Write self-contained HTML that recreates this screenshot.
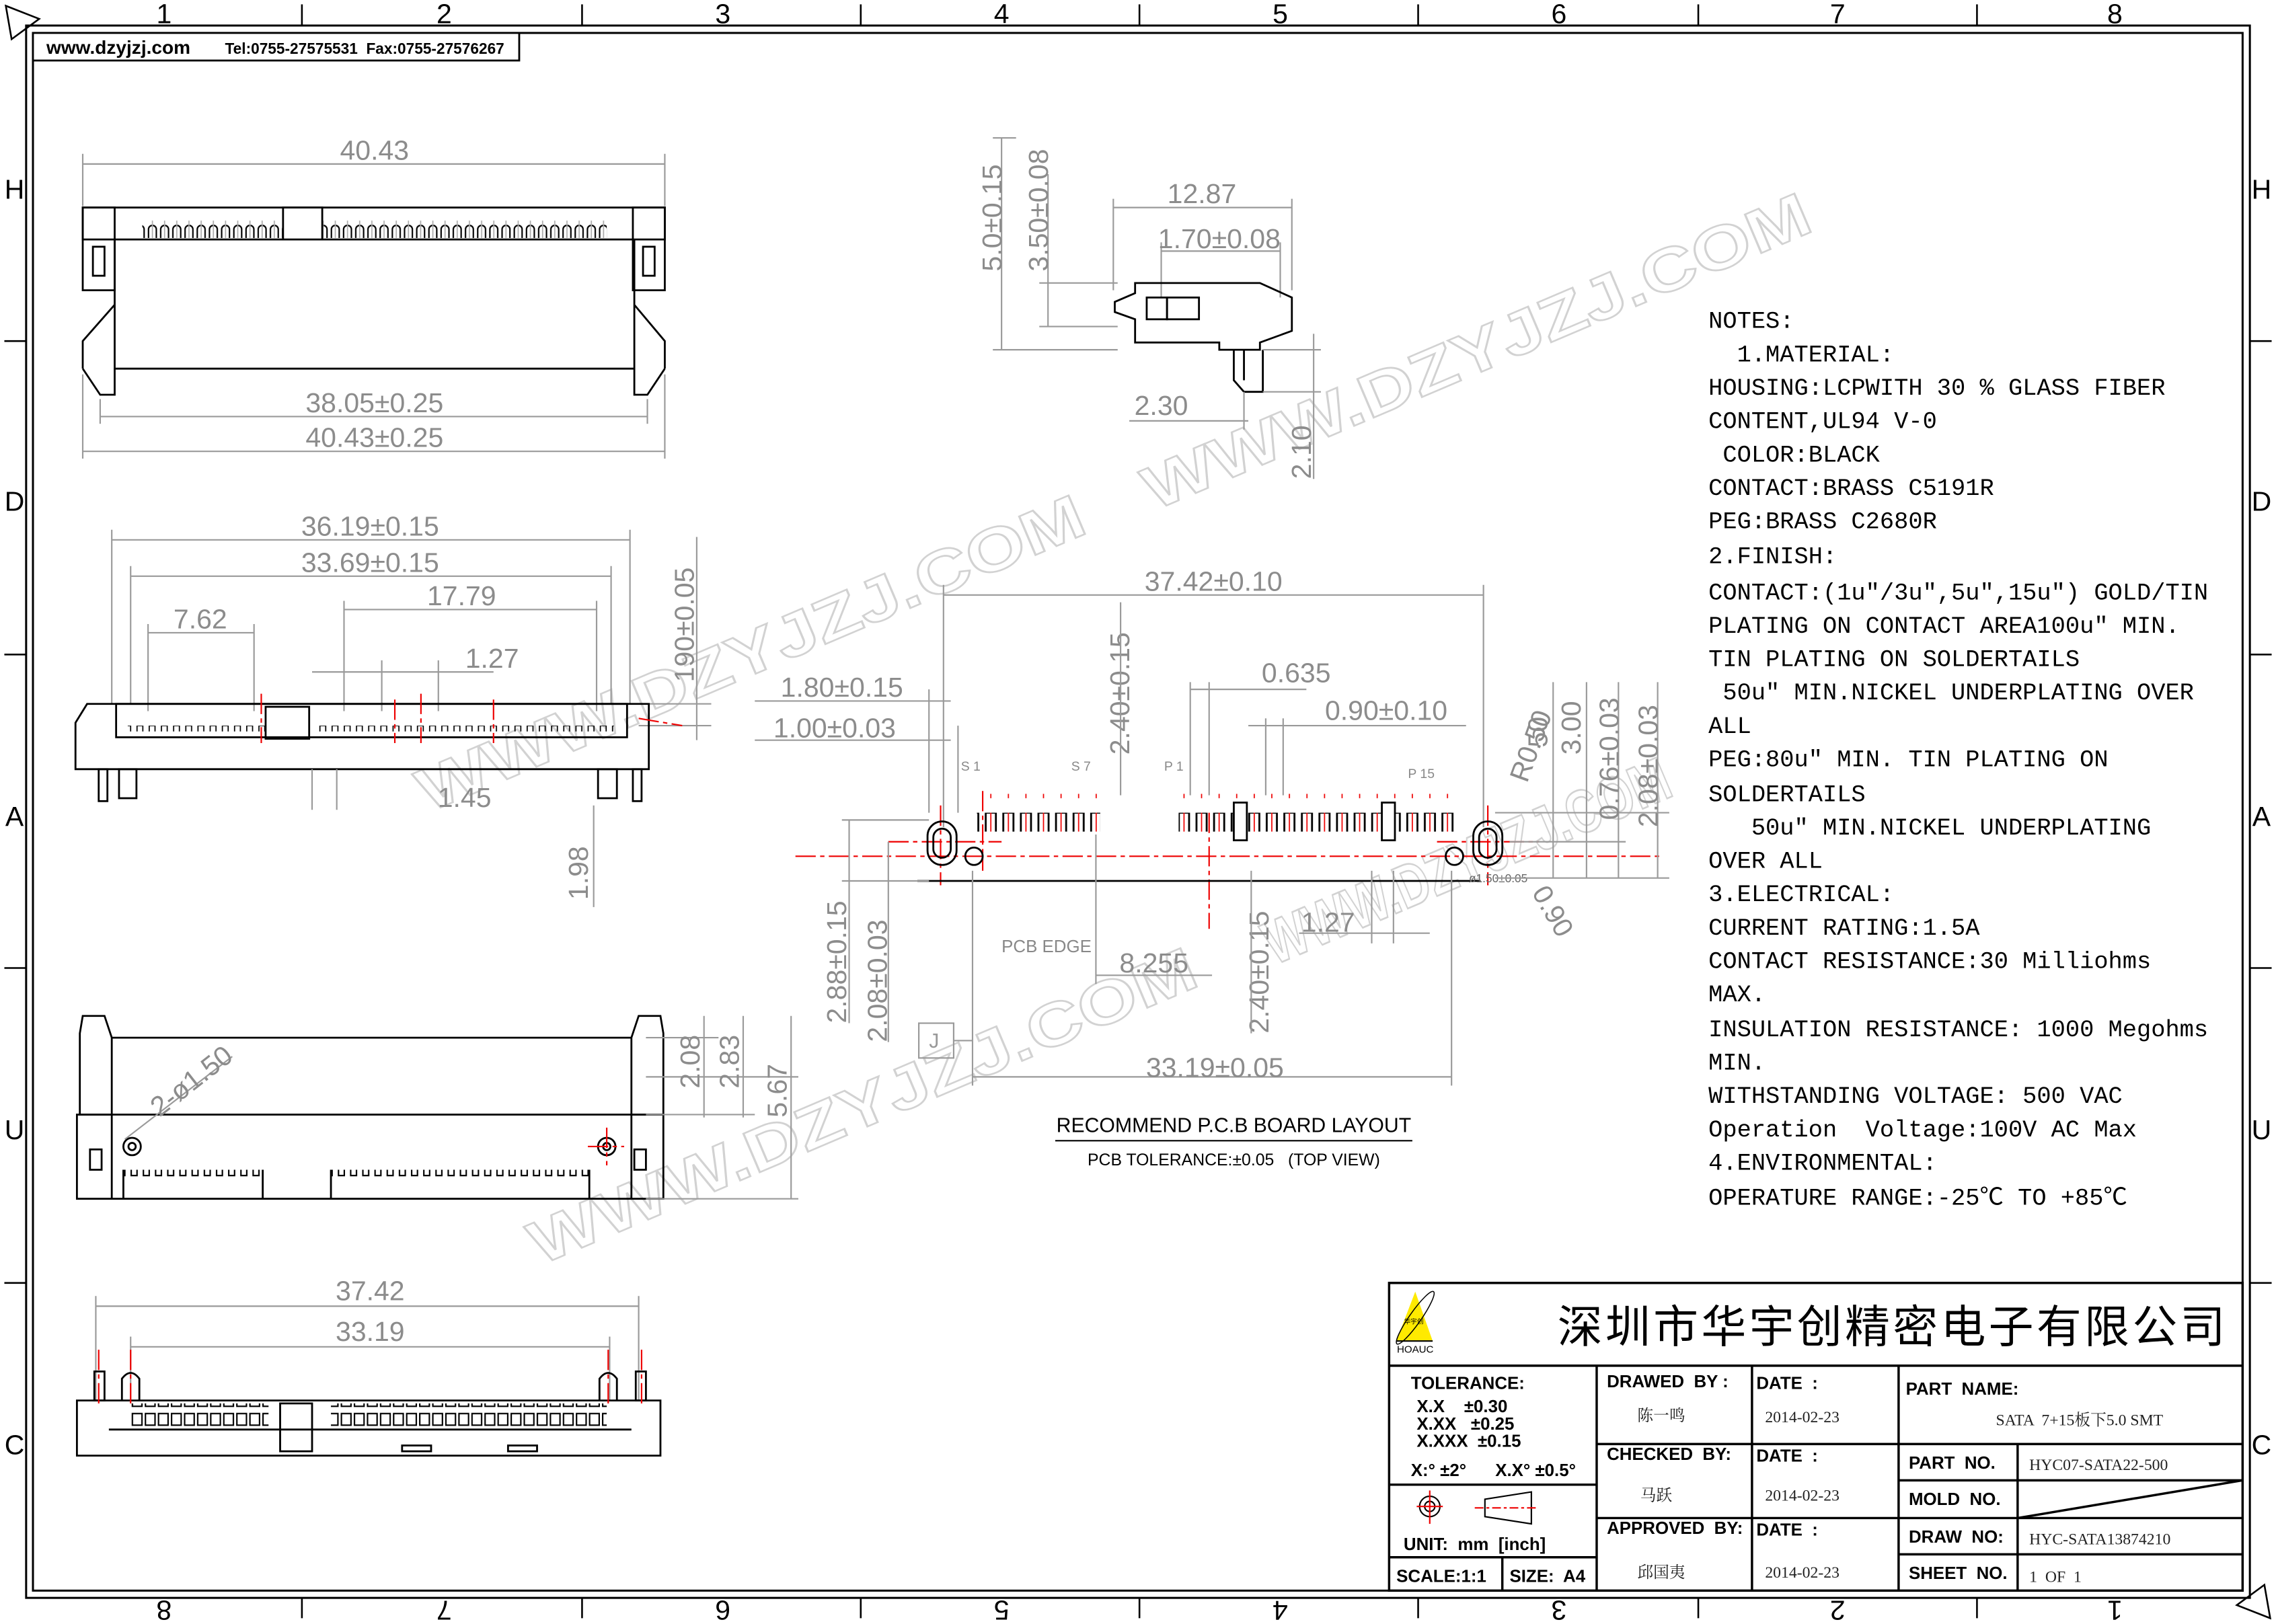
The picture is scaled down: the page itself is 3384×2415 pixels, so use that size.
<!DOCTYPE html>
<html><head><meta charset="utf-8"><style>
html,body{margin:0;padding:0;background:#fff}
svg{display:block}
text{font-family:"Liberation Sans","Noto Sans CJK SC",sans-serif;white-space:pre}
.d{fill:#8c8c8c;font-size:19px}
.dl{stroke:#9a9a9a;stroke-width:1;fill:none}
.k{stroke:#000;stroke-width:1.3;fill:none}
.kf{stroke:#000;stroke-width:1.3;fill:#fff}
.r{stroke:#e00;stroke-width:1;fill:none;stroke-dasharray:14 3 3 3}
.n{font-family:"Liberation Mono","Noto Sans CJK SC",monospace;font-size:16.4px;fill:#000}
.tb{font-family:"Liberation Sans",sans-serif;font-weight:bold;font-size:12px;fill:#000}
.ts{font-family:"Liberation Serif","Noto Serif CJK SC",serif;font-size:11px;fill:#222}
.wm{font-family:"Liberation Sans",sans-serif;font-size:42px;font-weight:bold;fill:none;stroke:#d2d2d2;stroke-width:1.2}
</style></head><body>
<svg width="3384" height="2415" viewBox="0 0 1568 1119" preserveAspectRatio="none" xmlns="http://www.w3.org/2000/svg">
<defs>
<pattern id="arch" x="0" y="0" width="8.4" height="30" patternUnits="userSpaceOnUse">
<path d="M1.5 22 V8 A2.7 2.7 0 0 1 6.9 8 V22" stroke="#000" stroke-width="1" fill="none"/>
<line x1="4.2" y1="2" x2="4.2" y2="22" stroke="#aaa" stroke-width="0.8"/>
</pattern>
<pattern id="comb" x="0" y="0" width="8.4" height="40" patternUnits="userSpaceOnUse">
<path d="M0 10 H2 V2 H6.4 V10 H8.4" stroke="#000" stroke-width="1" fill="none"/>
</pattern>
<pattern id="cbox" x="0" y="0" width="9" height="40" patternUnits="userSpaceOnUse">
<rect x="1.2" y="1" width="6.6" height="8" stroke="#000" stroke-width="1" fill="none"/>
<rect x="1.2" y="14" width="6.6" height="8" stroke="#000" stroke-width="1" fill="none"/>
</pattern>
<pattern id="pad" x="0" y="0" width="12.1" height="40" patternUnits="userSpaceOnUse">
<rect x="1.5" y="0" width="7" height="25" stroke="#000" stroke-width="1.3" fill="none"/>
<line x1="5" y1="-3" x2="5" y2="30" stroke="#e00" stroke-width="0.8"/>
</pattern>
<pattern id="tiny" x="0" y="0" width="8.4" height="20" patternUnits="userSpaceOnUse">
<rect x="2" y="0" width="4" height="8" stroke="#000" stroke-width="0.8" fill="none"/>
</pattern>
</defs>

<!-- frame -->
<rect x="18" y="17.6" width="1532" height="1083.4" fill="none" stroke="#000" stroke-width="1.4"/>
<rect x="22.7" y="22.7" width="1522.3" height="1073.3" fill="none" stroke="#000" stroke-width="1.4"/>
<g stroke="#000" stroke-width="1.2">
<line x1="208" y1="3" x2="208" y2="17"/><line x1="401" y1="3" x2="401" y2="17"/><line x1="593" y1="3" x2="593" y2="17"/><line x1="785" y1="3" x2="785" y2="17"/><line x1="977" y1="3" x2="977" y2="17"/><line x1="1170" y1="3" x2="1170" y2="17"/><line x1="1362" y1="3" x2="1362" y2="17"/>
<line x1="208" y1="1101" x2="208" y2="1115"/><line x1="401" y1="1101" x2="401" y2="1115"/><line x1="593" y1="1101" x2="593" y2="1115"/><line x1="785" y1="1101" x2="785" y2="1115"/><line x1="977" y1="1101" x2="977" y2="1115"/><line x1="1170" y1="1101" x2="1170" y2="1115"/><line x1="1362" y1="1101" x2="1362" y2="1115"/>
<line x1="3" y1="235" x2="18" y2="235"/><line x1="3" y1="451" x2="18" y2="451"/><line x1="3" y1="667" x2="18" y2="667"/><line x1="3" y1="884" x2="18" y2="884"/>
<line x1="1550" y1="235" x2="1565" y2="235"/><line x1="1550" y1="451" x2="1565" y2="451"/><line x1="1550" y1="667" x2="1565" y2="667"/><line x1="1550" y1="884" x2="1565" y2="884"/>
</g>
<path d="M4 4 L27 13 L8 27 Z" fill="none" stroke="#000" stroke-width="1.2"/>
<path d="M1564 1115 L1541 1106 L1560 1092 Z" fill="none" stroke="#000" stroke-width="1.2"/>
<g font-size="19" fill="#000" text-anchor="middle">
<text x="113" y="16">1</text><text x="306" y="16">2</text><text x="498" y="16">3</text><text x="690" y="16">4</text><text x="882" y="16">5</text><text x="1074" y="16">6</text><text x="1266" y="16">7</text><text x="1457" y="16">8</text>
<text x="10" y="137">H</text><text x="10" y="352">D</text><text x="10" y="569">A</text><text x="10" y="785">U</text><text x="10" y="1002">C</text>
<text x="1558" y="137">H</text><text x="1558" y="352">D</text><text x="1558" y="569">A</text><text x="1558" y="785">U</text><text x="1558" y="1002">C</text>
<text transform="translate(113,1103) rotate(180)">8</text><text transform="translate(306,1103) rotate(180)">7</text><text transform="translate(498,1103) rotate(180)">6</text><text transform="translate(690,1103) rotate(180)">5</text><text transform="translate(882,1103) rotate(180)">4</text><text transform="translate(1074,1103) rotate(180)">3</text><text transform="translate(1266,1103) rotate(180)">2</text><text transform="translate(1457,1103) rotate(180)">1</text>
</g>
<rect x="22.7" y="22.7" width="335" height="19" fill="#fff" stroke="#000" stroke-width="1.3"/>
<text x="32" y="37" font-family="Liberation Serif,serif" font-weight="bold" font-size="13">www.dzyjzj.com</text>
<text x="155" y="37" font-family="Liberation Serif,serif" font-weight="bold" font-size="10.5">Tel:0755-27575531  Fax:0755-27576267</text>

<!-- watermarks -->
<text class="wm" transform="translate(795,352) rotate(-23)" textLength="495" lengthAdjust="spacingAndGlyphs">WWW.DZYJZJ.COM</text>
<text class="wm" transform="translate(295,560) rotate(-23)" textLength="495" lengthAdjust="spacingAndGlyphs">WWW.DZYJZJ.COM</text>
<text class="wm" transform="translate(372,872) rotate(-23)" textLength="495" lengthAdjust="spacingAndGlyphs">WWW.DZYJZJ.COM</text>
<text class="wm" transform="translate(878,665) rotate(-23)" textLength="300" lengthAdjust="spacingAndGlyphs">WWW.DZYJZJ.COM</text>

<!-- VIEW 1 -->
<g>
<line class="dl" x1="57" y1="113" x2="458" y2="113"/><line class="dl" x1="57" y1="106" x2="57" y2="142"/><line class="dl" x1="458" y1="106" x2="458" y2="142"/>
<text class="d" x="258" y="110" text-anchor="middle">40.43</text>
<rect class="k" x="57" y="143" width="401" height="22"/>
<rect x="98" y="146" width="320" height="18" fill="url(#arch)"/>
<rect class="kf" x="195" y="143" width="27" height="22"/>
<rect class="k" x="57" y="143" width="22" height="57"/><rect class="k" x="436" y="143" width="22" height="57"/>
<rect class="k" x="64" y="170" width="8" height="20"/><rect class="k" x="443" y="170" width="8" height="20"/>
<path class="k" d="M79 165 V254 H437 V165"/>
<path class="k" d="M79 210 L57 235 V254 M437 210 L458 235 V254"/>
<path class="k" d="M57 254 L69 272 H79 V254 M458 254 L446 272 H437 V254"/>
<line class="dl" x1="69" y1="287" x2="446" y2="287"/><line class="dl" x1="69" y1="275" x2="69" y2="292"/><line class="dl" x1="446" y1="275" x2="446" y2="292"/>
<text class="d" x="258" y="284" text-anchor="middle">38.05±0.25</text>
<line class="dl" x1="57" y1="311" x2="458" y2="311"/><line class="dl" x1="57" y1="258" x2="57" y2="316"/><line class="dl" x1="458" y1="258" x2="458" y2="316"/>
<text class="d" x="258" y="308" text-anchor="middle">40.43±0.25</text>
</g>

<!-- VIEW 2 -->
<g>
<line class="dl" x1="77" y1="372" x2="434" y2="372"/><line class="dl" x1="77" y1="365" x2="77" y2="485"/><line class="dl" x1="434" y1="365" x2="434" y2="485"/>
<text class="d" x="255" y="369" text-anchor="middle">36.19±0.15</text>
<line class="dl" x1="90" y1="397" x2="421" y2="397"/><line class="dl" x1="90" y1="390" x2="90" y2="485"/><line class="dl" x1="421" y1="390" x2="421" y2="485"/>
<text class="d" x="255" y="394" text-anchor="middle">33.69±0.15</text>
<line class="dl" x1="237" y1="420" x2="411" y2="420"/><line class="dl" x1="237" y1="414" x2="237" y2="490"/><line class="dl" x1="411" y1="414" x2="411" y2="490"/>
<text class="d" x="318" y="417" text-anchor="middle">17.79</text>
<line class="dl" x1="102" y1="436" x2="175" y2="436"/><line class="dl" x1="102" y1="430" x2="102" y2="490"/><line class="dl" x1="175" y1="430" x2="175" y2="490"/>
<text class="d" x="138" y="433" text-anchor="middle">7.62</text>
<line class="dl" x1="215" y1="463" x2="340" y2="463"/><line class="dl" x1="263" y1="455" x2="263" y2="490"/><line class="dl" x1="302" y1="455" x2="302" y2="490"/>
<text class="d" x="339" y="460" text-anchor="middle">1.27</text>
<text class="d" transform="translate(478,470) rotate(-90)">190±0.05</text>
<line class="dl" x1="440" y1="485" x2="490" y2="485"/><line class="dl" x1="440" y1="500" x2="490" y2="500"/><line class="dl" x1="480" y1="370" x2="480" y2="510"/>
<path class="k" d="M60 485 L52 498 V530 H447 V485 Z"/>
<rect class="k" x="80" y="485" width="352" height="23"/>
<rect x="88" y="490" width="95" height="14" fill="url(#tiny)"/>
<rect x="218" y="490" width="205" height="14" fill="url(#tiny)"/>
<rect class="k" x="183" y="487" width="30" height="22"/>
<line class="r" x1="180" y1="478" x2="180" y2="512" stroke-dasharray="none"/><line class="r" x1="290" y1="478" x2="290" y2="512" stroke-dasharray="none"/><line class="r" x1="440" y1="495" x2="470" y2="500" stroke-dasharray="none"/>
<line class="r" x1="272" y1="482" x2="272" y2="512" stroke-dasharray="none"/><line class="r" x1="340" y1="482" x2="340" y2="512" stroke-dasharray="none"/>
<rect class="k" x="68" y="530" width="6" height="22"/><rect class="k" x="82" y="530" width="12" height="20"/><rect class="k" x="412" y="530" width="13" height="20"/><rect class="k" x="436" y="530" width="6" height="22"/>
<line class="dl" x1="215" y1="530" x2="215" y2="558"/><line class="dl" x1="232" y1="530" x2="232" y2="558"/>
<text class="d" x="320" y="556" text-anchor="middle">1.45</text>
<text class="d" transform="translate(405,620) rotate(-90)">1.98</text>
<line class="dl" x1="409" y1="555" x2="409" y2="625"/>
</g>

<!-- VIEW 3 -->
<g>
<path class="k" d="M57 700 H72 L77 715 V768 H55 V712 Z M455 700 H440 L435 715 V768 H457 V712 Z"/>
<line class="k" x1="77" y1="715" x2="435" y2="715"/>
<rect class="k" x="53" y="768" width="404" height="58"/>
<line class="k" x1="77" y1="768" x2="77" y2="826"/><line class="k" x1="435" y1="768" x2="435" y2="826"/>
<rect x="85" y="806" width="96" height="20" fill="url(#comb)"/>
<rect x="228" y="806" width="178" height="20" fill="url(#comb)"/>
<path class="k" d="M85 826 V806 M181 806 V826 M228 826 V806 M406 806 V826"/>
<circle class="k" cx="91" cy="790" r="6"/><circle class="k" cx="91" cy="790" r="2.5"/>
<circle class="k" cx="418" cy="790" r="6"/><circle class="k" cx="418" cy="790" r="2.5"/>
<rect class="k" x="62" y="792" width="8" height="14"/><rect class="k" x="437" y="792" width="8" height="14"/>
<line class="r" x1="405" y1="790" x2="430" y2="790" stroke-dasharray="none"/><line class="r" x1="418" y1="777" x2="418" y2="803" stroke-dasharray="none"/>
<line class="dl" x1="86" y1="785" x2="160" y2="728"/>
<text class="d" transform="translate(110,770) rotate(-38)">2-ø1.50</text>
<line class="dl" x1="445" y1="715" x2="495" y2="715"/><line class="dl" x1="445" y1="768" x2="520" y2="768"/><line class="dl" x1="445" y1="826" x2="550" y2="826"/><line class="dl" x1="445" y1="742" x2="550" y2="742"/>
<line class="dl" x1="485" y1="700" x2="485" y2="770"/><line class="dl" x1="512" y1="700" x2="512" y2="770"/><line class="dl" x1="545" y1="700" x2="545" y2="826"/>
<text class="d" transform="translate(482,750) rotate(-90)">2.08</text>
<text class="d" transform="translate(509,750) rotate(-90)">2.83</text>
<text class="d" transform="translate(542,770) rotate(-90)">5.67</text>
</g>

<!-- VIEW 4 -->
<g>
<line class="dl" x1="66" y1="900" x2="440" y2="900"/><line class="dl" x1="66" y1="893" x2="66" y2="965"/><line class="dl" x1="440" y1="893" x2="440" y2="965"/>
<text class="d" x="255" y="896" text-anchor="middle">37.42</text>
<line class="dl" x1="90" y1="928" x2="420" y2="928"/><line class="dl" x1="90" y1="921" x2="90" y2="965"/><line class="dl" x1="420" y1="921" x2="420" y2="965"/>
<text class="d" x="255" y="924" text-anchor="middle">33.19</text>
<path class="k" d="M53 965 H455 V1003 H53 Z"/>
<rect class="k" x="65" y="945" width="7" height="20"/><rect class="k" x="438" y="945" width="7" height="20"/>
<path class="k" d="M84 965 V950 Q90 942 96 950 V965 M413 965 V950 Q419 942 425 950 V965"/>
<line class="r" x1="68" y1="930" x2="68" y2="970" stroke-dasharray="none"/><line class="r" x1="90" y1="930" x2="90" y2="970" stroke-dasharray="none"/><line class="r" x1="419" y1="930" x2="419" y2="970" stroke-dasharray="none"/><line class="r" x1="442" y1="930" x2="442" y2="970" stroke-dasharray="none"/>
<rect x="90" y="967" width="95" height="32" fill="url(#cbox)"/>
<rect x="228" y="967" width="190" height="32" fill="url(#cbox)"/>
<rect class="k" x="193" y="967" width="22" height="33"/>
<line class="k" x1="75" y1="985" x2="435" y2="985"/>
<rect class="k" x="277" y="996" width="20" height="4"/><rect class="k" x="350" y="996" width="20" height="4"/>
</g>

<!-- TOP MIDDLE VIEW -->
<g>
<line class="dl" x1="690" y1="95" x2="690" y2="241"/><line class="dl" x1="684" y1="241" x2="770" y2="241"/><line class="dl" x1="684" y1="95" x2="700" y2="95"/>
<line class="dl" x1="722" y1="120" x2="722" y2="225"/><line class="dl" x1="716" y1="195" x2="770" y2="195"/><line class="dl" x1="716" y1="225" x2="770" y2="225"/>
<text class="d" transform="translate(690,187) rotate(-90)">5.0±0.15</text>
<text class="d" transform="translate(722,187) rotate(-90)">3.50±0.08</text>
<line class="dl" x1="767" y1="143" x2="890" y2="143"/><line class="dl" x1="767" y1="137" x2="767" y2="200"/><line class="dl" x1="890" y1="137" x2="890" y2="200"/>
<text class="d" x="828" y="140" text-anchor="middle">12.87</text>
<line class="dl" x1="800" y1="173" x2="882" y2="173"/><line class="dl" x1="800" y1="167" x2="800" y2="205"/><line class="dl" x1="882" y1="167" x2="882" y2="205"/>
<text class="d" x="840" y="171" text-anchor="middle" font-size="15">1.70±0.08</text>
<path class="k" d="M768 208 L782 202 V195 H868 L890 205 V228 L868 236 V241 H840 V236 H782 V220 L768 215 Z"/>
<rect class="k" x="790" y="205" width="14" height="15"/><rect class="k" x="804" y="205" width="22" height="15"/>
<path class="k" d="M850 241 V262 L857 270 H870 V241 M857 241 V262"/>
<line class="dl" x1="778" y1="290" x2="860" y2="290"/><line class="dl" x1="857" y1="270" x2="857" y2="296"/>
<text class="d" x="800" y="286" text-anchor="middle">2.30</text>
<line class="dl" x1="870" y1="270" x2="910" y2="270"/><line class="dl" x1="870" y1="241" x2="910" y2="241"/><line class="dl" x1="905" y1="230" x2="905" y2="330"/>
<text class="d" transform="translate(903,330) rotate(-90)">2.10</text>
</g>

<!-- PCB LAYOUT -->
<g>
<line class="dl" x1="650" y1="410" x2="1022" y2="410"/><line class="dl" x1="650" y1="403" x2="650" y2="570"/><line class="dl" x1="1022" y1="403" x2="1022" y2="570"/>
<text class="d" x="836" y="407" text-anchor="middle">37.42±0.10</text>
<line class="dl" x1="520" y1="483" x2="655" y2="483"/><text class="d" x="580" y="480" text-anchor="middle">1.80±0.15</text>
<line class="dl" x1="520" y1="510" x2="655" y2="510"/><text class="d" x="575" y="508" text-anchor="middle">1.00±0.03</text>
<line class="dl" x1="640" y1="475" x2="640" y2="560"/><line class="dl" x1="660" y1="500" x2="660" y2="560"/>
<text class="d" transform="translate(778,520) rotate(-90)">2.40±0.15</text>
<line class="dl" x1="772" y1="415" x2="772" y2="548"/>
<line class="dl" x1="820" y1="475" x2="900" y2="475"/><line class="dl" x1="820" y1="470" x2="820" y2="548"/><line class="dl" x1="833" y1="470" x2="833" y2="548"/>
<text class="d" x="893" y="470" text-anchor="middle">0.635</text>
<line class="dl" x1="860" y1="500" x2="1010" y2="500"/><line class="dl" x1="872" y1="495" x2="872" y2="548"/><line class="dl" x1="884" y1="495" x2="884" y2="548"/>
<text class="d" x="955" y="496" text-anchor="middle">0.90±0.10</text>
<text font-size="9" fill="#888" x="662" y="531">S 1</text><text font-size="9" fill="#888" x="738" y="531">S 7</text><text font-size="9" fill="#888" x="802" y="531">P 1</text><text font-size="9" fill="#888" x="970" y="536">P 15</text>
<rect x="673" y="547" width="85" height="26" fill="url(#pad)"/>
<rect x="812" y="547" width="190" height="26" fill="url(#pad)"/>
<rect class="kf" x="850" y="553" width="9" height="26"/><rect class="kf" x="952" y="553" width="9" height="26"/>
<line class="r" x1="548" y1="590" x2="1145" y2="590"/>
<line class="r" x1="648" y1="555" x2="648" y2="610" stroke-dasharray="none"/><line class="r" x1="1025" y1="555" x2="1025" y2="610" stroke-dasharray="none"/>
<line class="r" x1="612" y1="580" x2="690" y2="580" stroke-dasharray="none"/><line class="r" x1="990" y1="580" x2="1060" y2="580" stroke-dasharray="none"/>
<line class="r" x1="677" y1="545" x2="677" y2="600" stroke-dasharray="none"/>
<line class="r" x1="833" y1="560" x2="833" y2="640"/>
<rect class="k" x="639" y="566" width="20" height="30" rx="10"/><rect class="k" x="643" y="571" width="12" height="20" rx="6"/>
<rect class="k" x="1015" y="566" width="20" height="30" rx="10"/><rect class="k" x="1019" y="571" width="12" height="20" rx="6"/>
<circle class="k" cx="671" cy="590" r="6"/><circle class="k" cx="1002" cy="590" r="6"/>
<line class="k" x1="632" y1="607" x2="1020" y2="607"/>
<text font-size="8" fill="#666" x="1012" y="608">ø1.50±0.05</text>
<text class="d" transform="translate(1052,540) rotate(-70)">R0.50</text>
<text class="d" transform="translate(1055,615) rotate(60)">0.90</text>
<line class="dl" x1="1030" y1="560" x2="1150" y2="560"/><line class="dl" x1="1030" y1="605" x2="1150" y2="605"/><line class="dl" x1="1040" y1="580" x2="1120" y2="580"/>
<line class="dl" x1="1070" y1="470" x2="1070" y2="605"/><line class="dl" x1="1093" y1="470" x2="1093" y2="605"/><line class="dl" x1="1115" y1="470" x2="1115" y2="605"/><line class="dl" x1="1142" y1="470" x2="1142" y2="605"/>
<text class="d" transform="translate(1066,515) rotate(-90)">50</text>
<text class="d" transform="translate(1089,520) rotate(-90)">3.00</text>
<text class="d" transform="translate(1115,565) rotate(-90)">0.76±0.03</text>
<text class="d" transform="translate(1142,570) rotate(-90)">2.08±0.03</text>
<line class="dl" x1="585" y1="565" x2="585" y2="705"/><line class="dl" x1="612" y1="580" x2="612" y2="718"/><line class="dl" x1="580" y1="565" x2="640" y2="565"/><line class="dl" x1="580" y1="607" x2="640" y2="607"/>
<text class="d" transform="translate(583,705) rotate(-90)">2.88±0.15</text>
<text class="d" transform="translate(611,718) rotate(-90)">2.08±0.03</text>
<text class="d" transform="translate(874,712) rotate(-90)">2.40±0.15</text>
<line class="dl" x1="862" y1="600" x2="862" y2="712"/>
<line class="dl" x1="895" y1="643" x2="985" y2="643"/><line class="dl" x1="945" y1="600" x2="945" y2="650"/><line class="dl" x1="960" y1="600" x2="960" y2="650"/>
<text class="d" x="915" y="642" text-anchor="middle">1.27</text>
<line class="dl" x1="755" y1="672" x2="835" y2="672"/><line class="dl" x1="755" y1="575" x2="755" y2="678"/>
<text class="d" x="795" y="670" text-anchor="middle">8.255</text>
<text font-size="12" fill="#888" x="690" y="656">PCB EDGE</text>
<line class="dl" x1="670" y1="600" x2="670" y2="748"/><line class="dl" x1="1000" y1="600" x2="1000" y2="748"/>
<line class="dl" x1="670" y1="742" x2="1000" y2="742"/>
<text class="d" x="837" y="742" text-anchor="middle">33.19±0.05</text>
<rect x="633" y="705" width="24" height="24" fill="none" stroke="#999" stroke-width="1"/>
<text font-size="14" fill="#999" x="640" y="722">J</text>
<line class="dl" x1="657" y1="717" x2="670" y2="717"/>
<text x="850" y="780" text-anchor="middle" font-family="Liberation Serif,serif" font-size="14">RECOMMEND P.C.B BOARD LAYOUT</text>
<line stroke="#000" stroke-width="1" x1="727" y1="786" x2="973" y2="786"/>
<text x="850" y="803" text-anchor="middle" font-family="Liberation Serif,serif" font-size="11.5">PCB TOLERANCE:±0.05   (TOP VIEW)</text>
</g>

<!-- NOTES -->
<g>
<text class="n" x="1177" y="226">NOTES:</text>
<text class="n" x="1177" y="249">  1.MATERIAL:</text>
<text class="n" x="1177" y="272">HOUSING:LCPWITH 30 % GLASS FIBER</text>
<text class="n" x="1177" y="295">CONTENT,UL94 V-0</text>
<text class="n" x="1177" y="318"> COLOR:BLACK</text>
<text class="n" x="1177" y="341">CONTACT:BRASS C5191R</text>
<text class="n" x="1177" y="364">PEG:BRASS C2680R</text>
<text class="n" x="1177" y="388">2.FINISH:</text>
<text class="n" x="1177" y="413">CONTACT:(1u″/3u″,5u″,15u″) GOLD/TIN</text>
<text class="n" x="1177" y="436">PLATING ON CONTACT AREA100u″ MIN.</text>
<text class="n" x="1177" y="459">TIN PLATING ON SOLDERTAILS</text>
<text class="n" x="1177" y="482"> 50u″ MIN.NICKEL UNDERPLATING OVER</text>
<text class="n" x="1177" y="505">ALL</text>
<text class="n" x="1177" y="528">PEG:80u″ MIN. TIN PLATING ON</text>
<text class="n" x="1177" y="552">SOLDERTAILS</text>
<text class="n" x="1177" y="575">   50u″ MIN.NICKEL UNDERPLATING</text>
<text class="n" x="1177" y="598">OVER ALL</text>
<text class="n" x="1177" y="621">3.ELECTRICAL:</text>
<text class="n" x="1177" y="644">CURRENT RATING:1.5A</text>
<text class="n" x="1177" y="667">CONTACT RESISTANCE:30 Milliohms</text>
<text class="n" x="1177" y="690">MAX.</text>
<text class="n" x="1177" y="714">INSULATION RESISTANCE: 1000 Megohms</text>
<text class="n" x="1177" y="737">MIN.</text>
<text class="n" x="1177" y="760">WITHSTANDING VOLTAGE: 500 VAC</text>
<text class="n" x="1177" y="783">Operation  Voltage:100V AC Max</text>
<text class="n" x="1177" y="806">4.ENVIRONMENTAL:</text>
<text class="n" x="1177" y="830">OPERATURE RANGE:-25℃ TO +85℃</text>
</g>

<!-- TITLE BLOCK -->
<g stroke="#000" stroke-width="1.6" fill="none">
<rect x="957" y="884" width="588" height="212"/>
<line x1="957" y1="941" x2="1545" y2="941"/>
<line x1="1100" y1="941" x2="1100" y2="1096"/>
<line x1="1207" y1="941" x2="1207" y2="1096"/>
<line x1="1308" y1="941" x2="1308" y2="1096"/>
<line x1="1390" y1="995" x2="1390" y2="1096"/>
<line x1="957" y1="1023" x2="1100" y2="1023"/>
<line x1="957" y1="1073" x2="1100" y2="1073"/>
<line x1="1035" y1="1073" x2="1035" y2="1096"/>
<line x1="1100" y1="995" x2="1308" y2="995"/>
<line x1="1100" y1="1046" x2="1308" y2="1046"/>
<line x1="1308" y1="995" x2="1545" y2="995"/>
<line x1="1308" y1="1020" x2="1545" y2="1020"/>
<line x1="1308" y1="1046" x2="1545" y2="1046"/>
<line x1="1308" y1="1071" x2="1545" y2="1071"/>
<line x1="1390" y1="1046" x2="1545" y2="1020"/>
</g>
<path d="M975 890 L962 924 H987 Z" fill="#ffea00"/>
<ellipse cx="975" cy="908" rx="22" ry="4" transform="rotate(-55 975 908)" fill="none" stroke="#000" stroke-width="0.7"/>
<line x1="962" y1="924" x2="987" y2="924" stroke="#000" stroke-width="1"/>
<text x="975" y="932" text-anchor="middle" font-size="7" fill="#000">HOAUC</text>
<text x="974" y="912" text-anchor="middle" font-size="4.5" fill="#000">华宇创</text>
<text x="1073" y="925" font-family="'Noto Sans CJK SC',sans-serif" font-size="31" fill="#000" textLength="460">深圳市华宇创精密电子有限公司</text>
<text class="tb" x="972" y="957">TOLERANCE:</text>
<text class="tb" x="976" y="973" font-size="10">X.X    ±0.30</text>
<text class="tb" x="976" y="985" font-size="10">X.XX   ±0.25</text>
<text class="tb" x="976" y="997" font-size="10">X.XXX  ±0.15</text>
<text class="tb" x="972" y="1017" font-size="9">X:° ±2°      X.X° ±0.5°</text>
<circle cx="985" cy="1038" r="7" fill="none" stroke="#000" stroke-width="1"/><circle cx="985" cy="1038" r="3.5" fill="none" stroke="#000" stroke-width="1"/>
<line x1="976" y1="1038" x2="994" y2="1038" stroke="#e00"/><line x1="985" y1="1027" x2="985" y2="1050" stroke="#e00"/>
<path d="M1023 1033 L1055 1028 V1050 L1023 1045 Z" fill="none" stroke="#000" stroke-width="1"/>
<line x1="1016" y1="1039" x2="1060" y2="1039" stroke="#e00" stroke-dasharray="6 2 2 2"/>
<text class="tb" x="967" y="1068" font-size="12">UNIT:  mm  [inch]</text>
<text class="tb" x="962" y="1090" font-size="11">SCALE:1:1</text>
<text class="tb" x="1040" y="1090" font-size="11">SIZE:  A4</text>
<text class="tb" x="1107" y="956">DRAWED  BY :</text>
<text class="tb" x="1107" y="1006">CHECKED  BY:</text>
<text class="tb" x="1107" y="1057">APPROVED  BY:</text>
<text class="tb" x="1210" y="957">DATE  :</text>
<text class="tb" x="1210" y="1007">DATE  :</text>
<text class="tb" x="1210" y="1058">DATE  :</text>
<text class="ts" x="1128" y="979" font-size="12">陈一鸣</text>
<text class="ts" x="1130" y="1034" font-size="12">马跃</text>
<text class="ts" x="1128" y="1087" font-size="12">邱国夷</text>
<text class="ts" x="1216" y="980" font-size="12">2014-02-23</text>
<text class="ts" x="1216" y="1034" font-size="12">2014-02-23</text>
<text class="ts" x="1216" y="1087" font-size="12">2014-02-23</text>
<text class="tb" x="1313" y="961">PART  NAME:</text>
<text class="ts" x="1375" y="982">SATA  7+15板下5.0 SMT</text>
<text class="tb" x="1315" y="1012">PART  NO.</text>
<text class="tb" x="1315" y="1037">MOLD  NO.</text>
<text class="tb" x="1315" y="1063">DRAW  NO:</text>
<text class="tb" x="1315" y="1088">SHEET  NO.</text>
<text class="ts" x="1398" y="1013">HYC07-SATA22-500</text>
<text class="ts" x="1398" y="1064">HYC-SATA13874210</text>
<text class="ts" x="1398" y="1090">1  OF  1</text>
</svg>
</body></html>
